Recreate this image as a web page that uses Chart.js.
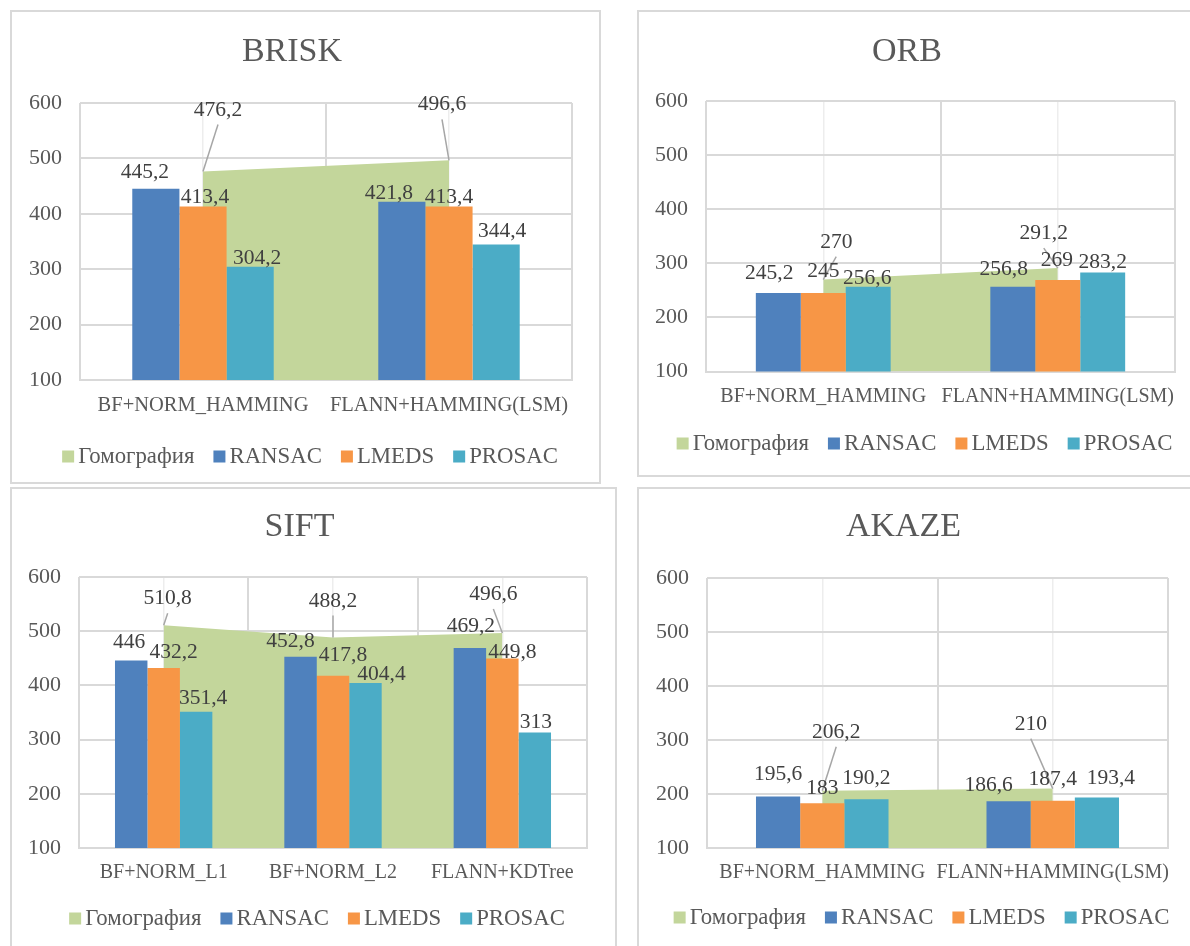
<!DOCTYPE html>
<html>
<head>
<meta charset="utf-8">
<script src="https://cdn.jsdelivr.net/npm/chart.js@4.4.1/dist/chart.umd.min.js"></script>
<style>
  html, body { margin: 0; padding: 0; background: #fff; }
  body { width: 1190px; height: 946px; overflow: hidden; position: relative; }
  .panel { position: absolute; box-sizing: border-box; border: 2px solid #D9D9D9; background: #fff; }
  .panel canvas { display: block; }
</style>
</head>
<body>
<div class="panel" style="left:10px; top:10px; width:591px; height:474px;"><canvas id="chart-brisk"></canvas></div>
<div class="panel" style="left:637px; top:10px; width:566px; height:467px;"><canvas id="chart-orb"></canvas></div>
<div class="panel" style="left:10px; top:487px; width:607px; height:470px;"><canvas id="chart-sift"></canvas></div>
<div class="panel" style="left:637px; top:487px; width:560px; height:470px;"><canvas id="chart-akaze"></canvas></div>

<script>
// ---- series ----
const seriesNames = ['Гомография', 'RANSAC', 'LMEDS', 'PROSAC'];
const yTickLabels = [100, 200, 300, 400, 500, 600];

// BRISK
const briskCategories = ['BF+NORM_HAMMING', 'FLANN+HAMMING(LSM)'];
const briskHomography = [476.2, 496.6];
const briskRansac = [445.2, 421.8];
const briskLmeds = [413.4, 413.4];
const briskProsac = [304.2, 344.4];

// ORB
const orbCategories = ['BF+NORM_HAMMING', 'FLANN+HAMMING(LSM)'];
const orbHomography = [270, 291.2];
const orbRansac = [245.2, 256.8];
const orbLmeds = [245, 269];
const orbProsac = [256.6, 283.2];

// SIFT
const siftCategories = ['BF+NORM_L1', 'BF+NORM_L2', 'FLANN+KDTree'];
const siftHomography = [510.8, 488.2, 496.6];
const siftRansac = [446, 452.8, 469.2];
const siftLmeds = [432.2, 417.8, 449.8];
const siftProsac = [351.4, 404.4, 313];

// AKAZE
const akazeCategories = ['BF+NORM_HAMMING', 'FLANN+HAMMING(LSM)'];
const akazeHomography = [206.2, 210];
const akazeRansac = [195.6, 186.6];
const akazeLmeds = [183, 187.4];
const akazeProsac = [190.2, 193.4];

// ---- styling ----
const FONT = '"Liberation Serif", "Times New Roman", serif';
const seriesColors = ['#C3D69B', '#4F81BD', '#F79646', '#4BACC6'];
const TEXT = '#595959';
const LABEL_TEXT = '#404040';
const GRID_MAJOR = '#D9D9D9';
const GRID_MINOR = '#EDEDED';
const X_AXIS_HEIGHT = 40;

// label nudges in px: [dx, up] relative to bar top / area point
const briskLabelShift = [
  [[15, 63], [-7, 57]],
  [[-11, 18], [-13, 10]],
  [[2, 10], [0, 10]],
  [[7, 10], [6, 15]]
];
const orbLabelShift = [
  [[13, 39], [-14, 36]],
  [[-9, 21], [-9, 19]],
  [[0, 23], [-1, 21]],
  [[-1, 10], [0, 12]]
];
const siftLabelShift = [
  [[4, 28], [0, 38], [-9, 40]],
  [[-2, 20], [-10, 17], [1, 23]],
  [[10, 17], [10, 22], [10, 8]],
  [[7, 15], [16, 10], [1, 12]]
];
const akazeLabelShift = [
  [[14, 60], [-22, 66]],
  [[0, 23], [-20, 17]],
  [[0, 16], [0, 23]],
  [[0, 22], [14, 21]]
];

const fmt = v => String(v).replace('.', ',');

// value labels, with leader lines for the area series
const valueLabels = {
  id: 'valueLabels',
  afterDatasetsDraw(chart, args, opts) {
    const ctx = chart.ctx;
    ctx.save();
    ctx.font = opts.size + 'px ' + FONT;
    ctx.textAlign = 'center';
    ctx.textBaseline = 'alphabetic';
    const capHalf = opts.size * 0.331;
    chart.data.datasets.forEach((ds, di) => {
      const meta = chart.getDatasetMeta(di);
      meta.data.forEach((el, i) => {
        const [dx, up] = opts.shifts[di][i];
        const cx = el.x + dx;
        const cy = el.y - up;
        if (ds.type === 'line') {
          ctx.strokeStyle = '#A6A6A6';
          ctx.lineWidth = 1.5;
          ctx.beginPath();
          ctx.moveTo(cx, cy + 16);
          ctx.lineTo(el.x, el.y);
          ctx.stroke();
        }
        ctx.fillStyle = LABEL_TEXT;
        ctx.fillText(fmt(ds.data[i]), cx, cy + capHalf);
      });
    });
    ctx.restore();
  }
};

// square-swatch legend under the axis labels
const swatchLegend = {
  id: 'swatchLegend',
  afterDraw(chart, args, opts) {
    const ctx = chart.ctx;
    ctx.save();
    ctx.font = opts.size + 'px ' + FONT;
    ctx.textAlign = 'left';
    ctx.textBaseline = 'alphabetic';
    const box = 12, gap = 4, spacing = 19;
    const items = chart.data.datasets.map(ds => ({
      text: ds.label, color: ds.backgroundColor, w: ctx.measureText(ds.label).width
    }));
    const total = items.reduce((s, it) => s + box + gap + it.w, 0) + spacing * (items.length - 1);
    const ca = chart.chartArea;
    let x = (ca.left + ca.right) / 2 + opts.shiftX - total / 2;
    const y = opts.y;
    items.forEach(it => {
      ctx.fillStyle = it.color;
      ctx.fillRect(x, y - 12.5, box, box);
      x += box + gap;
      ctx.fillStyle = TEXT;
      ctx.fillText(it.text, x, y);
      x += it.w + spacing;
    });
    ctx.restore();
  }
};

function buildChart(canvasId, cfg) {
  const canvas = document.getElementById(canvasId);
  const parent = canvas.parentElement;
  const W = parent.clientWidth;
  const H = parent.clientHeight;
  canvas.width = W;
  canvas.height = H;
  canvas.style.width = W + 'px';
  canvas.style.height = H + 'px';
  const plot = cfg.plot;
  const titleHalf = 34 * 1.2 / 2;

  const barSet = (i, data) => ({
    type: 'bar', label: seriesNames[i], data,
    backgroundColor: seriesColors[i], borderWidth: 0,
    categoryPercentage: 0.575, barPercentage: 1.0, order: 1
  });

  return new Chart(canvas, {
    type: 'bar',
    data: {
      labels: cfg.categories,
      datasets: [
        {
          type: 'line', label: seriesNames[0], data: cfg.series[0],
          backgroundColor: seriesColors[0], borderColor: 'rgba(0,0,0,0)', borderWidth: 0,
          pointRadius: 0, tension: 0, fill: 'start', order: 2
        },
        barSet(1, cfg.series[1]),
        barSet(2, cfg.series[2]),
        barSet(3, cfg.series[3])
      ]
    },
    options: {
      responsive: false,
      animation: false,
      events: [],
      layout: {
        padding: { left: 0, top: 0, right: W - plot.r, bottom: H - plot.b - X_AXIS_HEIGHT }
      },
      plugins: {
        legend: { display: false },
        tooltip: { enabled: false },
        title: {
          display: true, text: cfg.title, color: TEXT,
          font: { family: FONT, size: 34, weight: 'normal', lineHeight: 1.2 },
          padding: { top: cfg.titleY - titleHalf, bottom: plot.t - cfg.titleY - titleHalf }
        },
        valueLabels: { size: 21.5, shifts: cfg.shifts },
        swatchLegend: { size: 22.8, y: cfg.legendY, shiftX: -16 }
      },
      scales: {
        x: {
          type: 'category', offset: true,
          grid: { offset: true, color: GRID_MAJOR, lineWidth: 2, drawTicks: false },
          border: { display: true, color: GRID_MAJOR, width: 2 },
          ticks: {
            autoSkip: false, maxRotation: 0, minRotation: 0, padding: 13,
            color: TEXT, font: { family: FONT, size: cfg.catSize }
          },
          afterFit: s => { s.height = X_AXIS_HEIGHT; }
        },
        xCenters: {
          type: 'category', position: 'bottom', offset: true,
          grid: { offset: false, color: GRID_MINOR, lineWidth: 1.5, drawTicks: false },
          border: { display: false },
          ticks: { display: false },
          afterFit: s => { s.height = 0; }
        },
        y: {
          min: yTickLabels[0], max: yTickLabels[yTickLabels.length - 1],
          grid: {
            drawTicks: false,
            color: c => (yTickLabels.includes(c.tick.value) ? GRID_MAJOR : GRID_MINOR),
            lineWidth: c => (yTickLabels.includes(c.tick.value) ? 2 : 1.5)
          },
          border: { display: false },
          ticks: {
            stepSize: 50, padding: 18, color: TEXT,
            font: { family: FONT, size: 22 },
            callback: v => (yTickLabels.includes(v) ? String(v) : '')
          },
          afterFit: s => { s.width = plot.l; }
        }
      }
    },
    plugins: [valueLabels, swatchLegend]
  });
}

buildChart('chart-brisk', {
  title: 'BRISK', categories: briskCategories,
  series: [briskHomography, briskRansac, briskLmeds, briskProsac],
  shifts: briskLabelShift, catSize: 20.5,
  plot: { l: 68, r: 560, t: 91, b: 368 }, titleY: 40, legendY: 451
});
buildChart('chart-orb', {
  title: 'ORB', categories: orbCategories,
  series: [orbHomography, orbRansac, orbLmeds, orbProsac],
  shifts: orbLabelShift, catSize: 20,
  plot: { l: 67, r: 536, t: 89, b: 359.5 }, titleY: 40, legendY: 438
});
buildChart('chart-sift', {
  title: 'SIFT', categories: siftCategories,
  series: [siftHomography, siftRansac, siftLmeds, siftProsac],
  shifts: siftLabelShift, catSize: 20,
  plot: { l: 67, r: 575, t: 88, b: 359 }, titleY: 38, legendY: 436
});
buildChart('chart-akaze', {
  title: 'AKAZE', categories: akazeCategories,
  series: [akazeHomography, akazeRansac, akazeLmeds, akazeProsac],
  shifts: akazeLabelShift, catSize: 20,
  plot: { l: 68, r: 529, t: 89, b: 359 }, titleY: 38, legendY: 435
});
</script>
</body>
</html>
